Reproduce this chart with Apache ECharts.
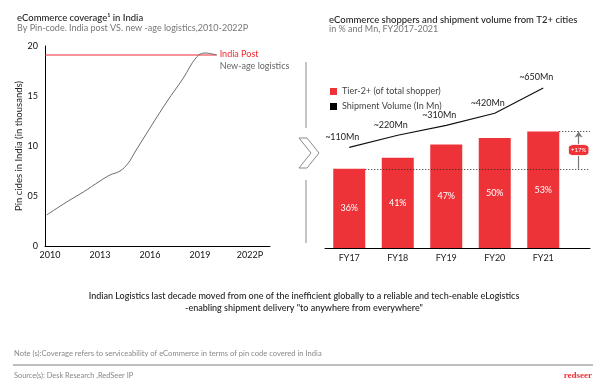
<!DOCTYPE html>
<html><head><meta charset="utf-8">
<script src="https://cdn.jsdelivr.net/npm/echarts@6/dist/echarts.min.js"></script>
<style>html,body{margin:0;padding:0;background:#fff}#c{width:605px;height:390px}</style>
</head><body><div id="c"></div>
<script>
// Left chart data
const coverageYears = [2009.8, 2011, 2012, 2013, 2013.6, 2014.2, 2014.7, 2015.1, 2016, 2017, 2018, 2018.8, 2019.3, 2020];
const coverageValues = [3.1, 4.4, 5.4, 6.5, 7.1, 7.5, 8.3, 9.4, 11.8, 14.4, 16.8, 18.9, 19.3, 19.1];
const indiaPostYears = [2009.7, 2020];
const indiaPostValues = [19.1, 19.1];
const leftXTicks = [2010, 2013, 2016, 2019, 2022];
const leftXLabels = ['2010', '2013', '2016', '2019', '2022P'];
const leftYTicks = [0, 5, 10, 15, 20];
const leftYLabels = ['0', '05', '10', '15', '20'];
// Right chart data
const fyCategories = ['FY17', 'FY18', 'FY19', 'FY20', 'FY21'];
const tier2Share = [36, 41, 47, 50, 53];
const shipmentVolume = [110, 220, 310, 420, 650];
const shipmentLabels = ['~110Mn', '~220Mn', '~310Mn', '~420Mn', '~650Mn'];
const growthLabel = '+17%';

const FONT = 'Lato, "Noto Sans", sans-serif';
const RED = '#ee3338';
const chart = echarts.init(document.getElementById('c'));

chart.setOption({
  backgroundColor: '#fff',
  animation: false,
  textStyle: { fontFamily: FONT },
  grid: [
    { left: 45, top: 46, width: 225, height: 200 },
    { left: 325, top: 50, width: 265, height: 198 }
  ],
  legend: {
    left: 325, top: 82, orient: 'vertical', itemWidth: 7, itemHeight: 7, itemGap: 6,
    textStyle: { fontSize: 9, color: '#444', fontFamily: FONT },
    data: [
      { name: 'Tier-2+ (of total shopper)', icon: 'rect' },
      { name: 'Shipment Volume (In Mn)', icon: 'rect' }
    ]
  },
  xAxis: [
    {
      gridIndex: 0, type: 'value', min: 2009.7, max: 2023.2,
      axisLine: { lineStyle: { color: '#000', width: 1 } },
      axisTick: { show: false }, splitLine: { show: false },
      axisLabel: {
        customValues: leftXTicks, color: '#111', fontSize: 9, margin: 5, fontFamily: FONT,
        formatter: v => leftXLabels[leftXTicks.indexOf(v)]
      }
    },
    {
      gridIndex: 1, type: 'value', min: -0.5, max: -0.5 + 265 / 48.5,
      axisLine: { lineStyle: { color: '#000', width: 1 } },
      axisTick: { show: false }, splitLine: { show: false },
      axisLabel: {
        customValues: [0, 1, 2, 3, 4], color: '#222', fontSize: 9, margin: 6, fontFamily: FONT,
        formatter: v => fyCategories[v]
      }
    }
  ],
  yAxis: [
    {
      gridIndex: 0, type: 'value', min: 0, max: 20,
      name: 'Pin cides in India (in thousands)', nameLocation: 'middle', nameRotate: 90, nameGap: 15,
      nameTextStyle: { fontSize: 9.5, color: '#222', fontFamily: FONT },
      axisLine: { show: true, lineStyle: { color: '#000', width: 1 } },
      axisTick: { show: false }, splitLine: { show: false },
      axisLabel: {
        customValues: leftYTicks, color: '#111', fontSize: 9, margin: 7, fontFamily: FONT,
        formatter: v => leftYLabels[leftYTicks.indexOf(v)]
      }
    },
    { gridIndex: 1, type: 'value', min: 0, max: 90, show: false },
    { gridIndex: 1, type: 'value', min: -805, max: 995, show: false }
  ],
  series: [
    {
      name: 'India Post', type: 'line', xAxisIndex: 0, yAxisIndex: 0,
      data: indiaPostYears.map((y, i) => [y, indiaPostValues[i]]),
      symbol: 'none', lineStyle: { color: '#ee2a30', width: 1.2 }, itemStyle: { color: RED },
      endLabel: { show: true, formatter: 'India Post', color: '#ee2a30', fontSize: 9, fontFamily: FONT, distance: 3, offset: [0, -1] },
      z: 3
    },
    {
      name: 'New-age logistics', type: 'line', xAxisIndex: 0, yAxisIndex: 0,
      data: coverageYears.map((y, i) => [y, coverageValues[i]]),
      symbol: 'none', smooth: 0.4, lineStyle: { color: '#6b6b6b', width: 1 }, itemStyle: { color: '#6b6b6b' },
      endLabel: { show: true, formatter: 'New-age logistics', color: '#666', fontSize: 9, fontFamily: FONT, distance: 3, offset: [0, 11] },
      z: 4
    },
    {
      name: 'Tier-2+ (of total shopper)', type: 'bar', xAxisIndex: 1, yAxisIndex: 1,
      data: tier2Share.map((v, i) => [i, v]),
      barWidth: 32, itemStyle: { color: RED },
      label: { show: true, position: 'inside', color: '#fff', fontSize: 9, fontFamily: FONT, formatter: p => p.value[1] + '%' },
      z: 3,
      markLine: {
        silent: true, symbol: 'none', animation: false,
        label: { show: false },
        lineStyle: { color: '#222', type: [1, 2], width: 1 },
        data: [
          [{ coord: [0.33, tier2Share[0]] }, { coord: [-0.5 + 265 / 48.5, tier2Share[0]] }],
          [{ coord: [4.33, tier2Share[4]] }, { coord: [-0.5 + 265 / 48.5, tier2Share[4]] }],
          [{ coord: [4.73, tier2Share[0]], symbol: 'none', lineStyle: { color: '#777', type: 'solid', width: 1.2 } },
           { coord: [4.73, tier2Share[4]], symbol: 'arrow', symbolSize: 6 }]
        ]
      },
      markPoint: {
        silent: true, animation: false,
        data: [{
          coord: [4.73, (tier2Share[0] + tier2Share[4]) / 2], symbol: 'roundRect', symbolSize: [21, 11],
          itemStyle: { color: RED, borderColor: '#fff', borderWidth: 1 },
          label: { show: true, formatter: growthLabel, color: '#fff', fontSize: 6, fontFamily: FONT }
        }]
      }
    },
    {
      name: 'Shipment Volume (In Mn)', type: 'line', xAxisIndex: 1, yAxisIndex: 2,
      data: shipmentVolume.map((v, i) => [i, v]),
      symbol: 'circle', symbolSize: 0.1, showSymbol: true,
      lineStyle: { color: '#111', width: 1.2 }, itemStyle: { color: '#000' },
      label: {
        show: true, position: 'top', color: '#222', fontSize: 9, fontFamily: FONT, offset: [-7, -1],
        formatter: p => shipmentLabels[p.dataIndex]
      },
      z: 5
    }
  ],
  graphic: [
    { type: 'text', left: 17, top: 13, style: { text: 'eCommerce coverage\u00b9 in India', fill: '#222', font: '500 9.5px ' + FONT } },
    { type: 'text', left: 17, top: 24, style: { text: 'By Pin-code. India post VS. new -age logistics,2010-2022P', fill: '#777', font: '9px ' + FONT } },
    { type: 'text', left: 329, top: 15, style: { text: 'eCommerce shoppers and shipment volume from T2+ cities', fill: '#222', font: '500 9.5px ' + FONT } },
    { type: 'text', left: 329, top: 25, style: { text: 'in % and Mn, FY2017-2021', fill: '#777', font: '9px ' + FONT } },
    { type: 'line', shape: { x1: 306, y1: 62, x2: 306, y2: 128 }, style: { stroke: '#c4c4c4', lineWidth: 2 } },
    { type: 'line', shape: { x1: 306, y1: 180, x2: 306, y2: 243 }, style: { stroke: '#c4c4c4', lineWidth: 2 } },
    { type: 'polygon', shape: { points: [[299, 138], [307, 138], [319, 153], [307, 168], [299, 168], [311, 153]] }, style: { fill: '#fff', stroke: '#8a8a8a', lineWidth: 1 } },
    { type: 'text', x: 304, y: 296, style: { text: 'Indian Logistics last decade moved from one of the inefficient globally to a reliable and tech-enable eLogistics', align: 'center', verticalAlign: 'middle', fill: '#222', font: '500 9px ' + FONT } },
    { type: 'text', x: 304, y: 308, style: { text: '-enabling shipment delivery "to anywhere from everywhere"', align: 'center', verticalAlign: 'middle', fill: '#222', font: '500 9px ' + FONT } },
    { type: 'text', x: 14, y: 354, style: { text: 'Note (s):Coverage refers to serviceability of eCommerce in terms of pin code covered in India', verticalAlign: 'middle', fill: '#888', font: '7.6px ' + FONT } },
    { type: 'line', shape: { x1: 13, y1: 365, x2: 593, y2: 365 }, style: { stroke: '#bdbdbd', lineWidth: 2 } },
    { type: 'text', x: 14, y: 376, style: { text: 'Source(s): Desk Research ,RedSeer IP', verticalAlign: 'middle', fill: '#888', font: '7.4px ' + FONT } },
    { type: 'text', x: 592, y: 376, style: { text: 'redseer', align: 'right', verticalAlign: 'middle', fill: RED, font: 'bold 9px "Liberation Serif", serif' } }
  ]
});
</script>
</body></html>
